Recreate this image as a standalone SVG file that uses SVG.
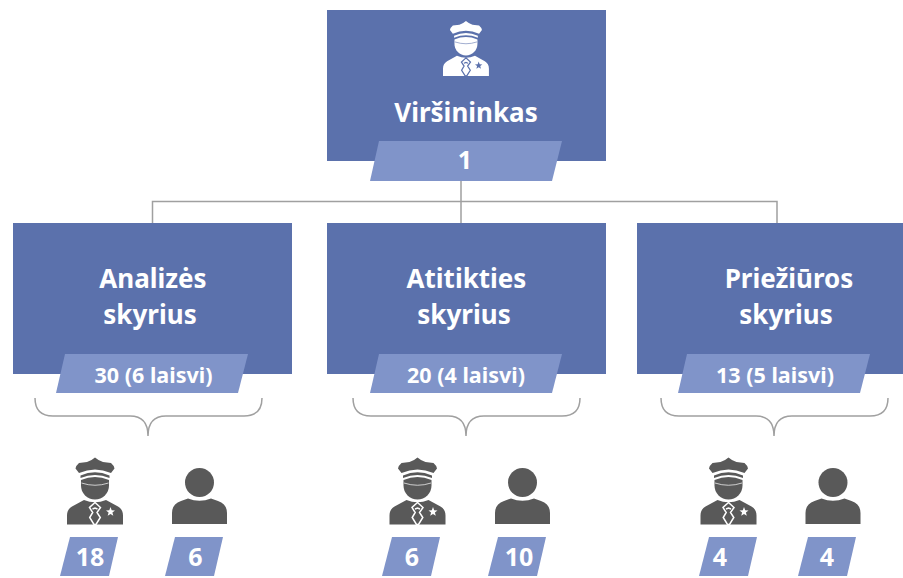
<svg xmlns="http://www.w3.org/2000/svg" xmlns:xlink="http://www.w3.org/1999/xlink" width="903" height="578" viewBox="0 0 903 578">
<style>
text{font-family:"Noto Sans","Open Sans",sans-serif;font-weight:700;fill:#fff;text-anchor:middle}
.box{fill:#5b71ac}
.tag{fill:#8094c9}
.t{font-size:26px}
.b{font-size:21.500px}
.n{font-size:25px}
.line{fill:none;stroke:#a0a0a0;stroke-width:1.5}
.dark{color:#595959;stroke:#fff;--s:#fff}
.light{color:#fff;stroke:#5b71ac;--s:#5b71ac}
.plain{stroke:none}
</style>
<defs>
<g id="officer">
<path fill="currentColor" stroke="none" d="M28 0Q32 3.500 36 4.500L44 5.500Q47 8 47.500 11L44 15.500Q28 8.500 12 15.500L8.500 11Q9 8 12 5.500L20 4.500Q24 3.500 28 0Z"/>
<path fill="currentColor" stroke="none" d="M13.500 18Q28 11.500 42.500 18V20.500Q28 14.500 13.500 20.500Z"/>
<path fill="currentColor" stroke="none" d="M14 22.500Q28 16.500 42 22.500V28A14 14 0 0 1 14 28Z"/>
<path fill="none" stroke-width=".7" d="M14.500 25.500Q28 30 41.500 25.500"/>
<path fill="currentColor" stroke="none" d="M0 67V58Q0 52 5 49L17 42.500Q28 47 39 42.500L51 49Q56 52 56 58V67Z"/>
<path fill="currentColor" stroke-width="1.500" d="M28 45L22.500 50L25.700 55L22.700 60L27 67H29L33.300 60L30 55L33.500 50ZM25.500 51.500L28 50.500L30.500 51.500"/>
<path stroke="none" fill="var(--s,#fff)" d="M43.500 49.500L44.700 52.700L48 52.900L45.400 55L46.300 58.200L43.500 56.400L40.700 58.200L41.600 55L39 52.900L42.300 52.700Z"/>
</g>
<g id="person">
<circle cx="27.500" cy="15.500" r="14.500" fill="currentColor"/>
<path fill="currentColor" d="M0 57V46Q0 37 9 34L16 31.500Q27.500 36 39 31.500L46 34Q55 37 55 46V57Z"/>
</g>
</defs>
<g id="connectors">
<path class="line" d="M461 181V223M152.500 223V201.500H777V223"/>
<path class="line" d="M35 398Q35 416 53 416H130Q148 416 148 436Q148 416 166 416H244Q262 416 262 398"/>
<path class="line" d="M353 398Q353 416 371 416H448Q466 416 466 436Q466 416 484 416H562Q580 416 580 398"/>
<path class="line" d="M661 398Q661 416 679 416H756Q774 416 774 436Q774 416 792 416H870Q888 416 888 398"/>
</g>
<g id="node-virsininkas">
<rect class="box" x="327" y="10" width="279" height="151"/>
<use xlink:href="#officer" href="#officer" class="light" transform="translate(443 21) scale(.82)"/>
<text class="t" x="466" y="121.500">Viršininkas</text>
<polygon class="tag" points="379,141 562,141 552,181 370,181"/>
<text class="n" x="465" y="169">1</text>
</g>
<g id="node-analizes">
<rect class="box" x="13" y="223" width="279" height="151"/>
<text class="t" x="153" y="287.500">Analizės</text>
<text class="t" x="150" y="324">skyrius</text>
<polygon class="tag" points="65,354 248,354 238,393 56,393"/>
<text class="b" x="153.500" y="383">30 (6 laisvi)</text>
</g>
<g id="node-atitikties">
<rect class="box" x="327" y="223" width="279" height="151"/>
<text class="t" x="466.500" y="287.500">Atitikties</text>
<text class="t" x="464" y="324">skyrius</text>
<polygon class="tag" points="379,354 562,354 552,393 370,393"/>
<text class="b" x="466" y="383">20 (4 laisvi)</text>
</g>
<g id="node-prieziuros">
<rect class="box" x="637" y="223" width="266" height="151"/>
<text class="t" x="789" y="287.500">Priežiūros</text>
<text class="t" x="786" y="324">skyrius</text>
<polygon class="tag" points="687,354 870,354 860,393 678,393"/>
<text class="b" x="775" y="383">13 (5 laisvi)</text>
</g>
<g id="staff-1"><use xlink:href="#officer" href="#officer" class="dark" transform="translate(67 457.500)"/><polygon class="tag" points="70,537 118,537 109,576 60,576"/><text class="n" x="90" y="566">18</text></g>
<g id="staff-2"><use xlink:href="#person" href="#person" class="plain" transform="translate(172 467)" style="color:#595959"/><polygon class="tag" points="175,537 223,537 214,576 165,576"/><text class="n" x="195.500" y="566">6</text></g>
<g id="staff-3"><use xlink:href="#officer" href="#officer" class="dark" transform="translate(389.500 457.500)"/><polygon class="tag" points="392,537 440,537 431,576 382,576"/><text class="n" x="412" y="566">6</text></g>
<g id="staff-4"><use xlink:href="#person" href="#person" class="plain" style="color:#595959" transform="translate(495 467)"/><polygon class="tag" points="498,537 546,537 537,576 488,576"/><text class="n" x="519" y="566">10</text></g>
<g id="staff-5"><use xlink:href="#officer" href="#officer" class="dark" transform="translate(700.500 457.500)"/><polygon class="tag" points="709,537 757,537 748,576 699,576"/><text class="n" x="720" y="566">4</text></g>
<g id="staff-6"><use xlink:href="#person" href="#person" class="plain" style="color:#595959" transform="translate(805.500 467)"/><polygon class="tag" points="808,537 856,537 847,576 798,576"/><text class="n" x="827" y="566">4</text></g>
</svg>
